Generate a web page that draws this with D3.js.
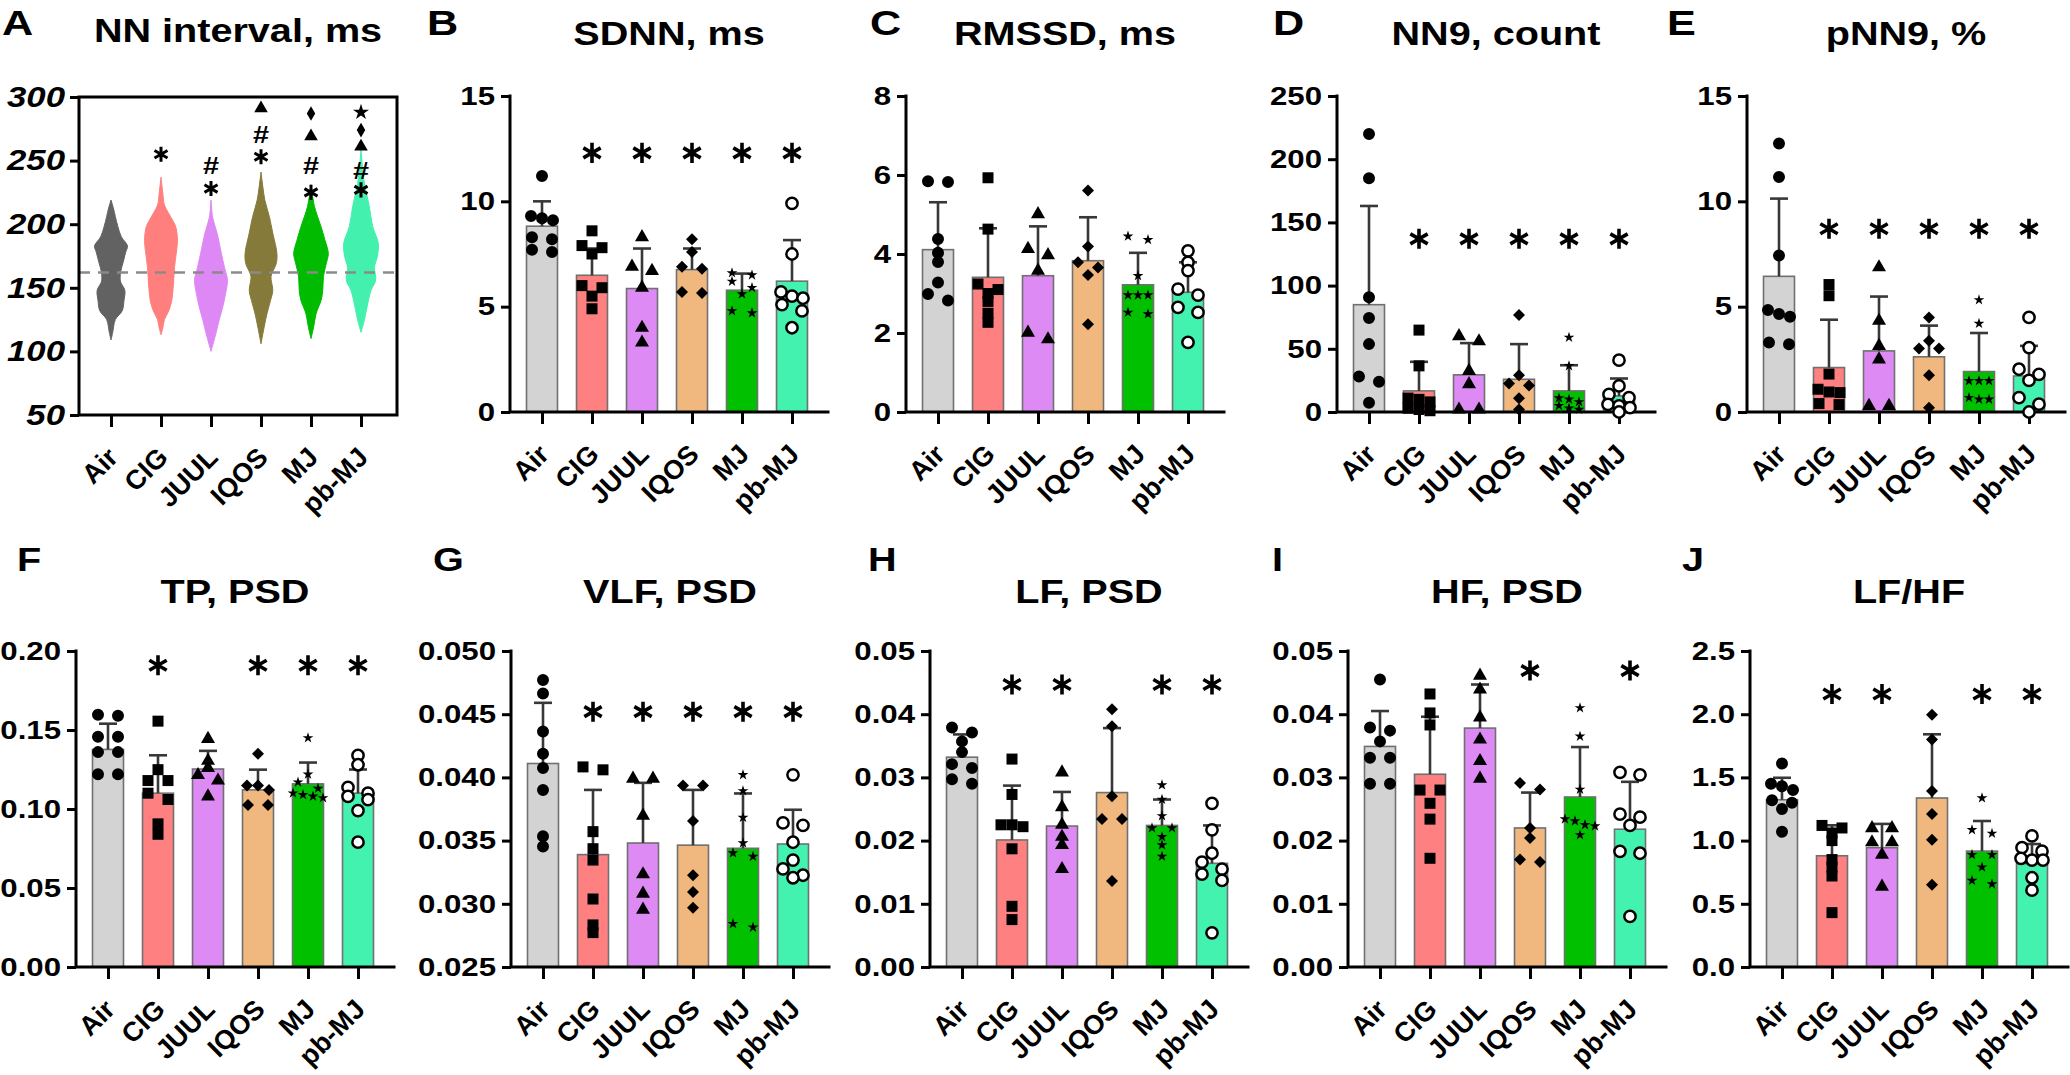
<!DOCTYPE html>
<html><head><meta charset="utf-8">
<script src="https://cdn.jsdelivr.net/npm/d3@7"></script>
<style>body{margin:0;background:#fff;} svg{display:block;}</style>
</head><body>
<script>
// ---------------- DATA ----------------
const categories = ["Air","CIG","JUUL","IQOS","MJ","pb-MJ"];
const barColors = ["#d3d3d3","#ff8080","#dd8af5","#f0b87f","#00c000","#44f2b0"];
const violinColors = ["#626262","#ff7f7f","#dd88f5","#867a3b","#00bb00","#44f0ae"];
const markerTypes = ["circle","square","triangle","diamond","star","opencircle"];

// Panel A: NN interval violin profiles [value ms, relative half-width]
const nnAir  = [[109,0],[115,0.1],[125,0.25],[132,0.65],[140,0.75],[148,0.8],[155,0.55],[162,0.55],[170,0.7],[178,0.85],[183,0.95],[190,0.6],[198,0.4],[206,0.25],[212,0.15],[219,0]];
const nnCIG  = [[113,0],[118,0.1],[125,0.2],[132,0.45],[140,0.62],[153,0.72],[166,0.78],[177,0.88],[187,0.95],[198,0.85],[206,0.55],[215,0.2],[225,0.1],[237,0]];
const nnJUUL = [[100,0],[106,0.12],[114,0.28],[125,0.48],[135,0.68],[146,0.85],[156,0.95],[166,0.78],[177,0.6],[193,0.35],[205,0.1],[219,0]];
const nnIQOS = [[106,0],[119,0.18],[130,0.35],[140,0.55],[148,0.68],[159,0.58],[169,0.88],[177,0.92],[193,0.68],[206,0.48],[219,0.22],[230,0.1],[241,0]];
const nnMJ   = [[110,0],[119,0.15],[130,0.3],[140,0.58],[148,0.68],[159,0.72],[169,0.88],[177,1.0],[187,0.82],[198,0.58],[214,0.2],[231,0]];
const nnPbMJ = [[115,0],[125,0.2],[135,0.35],[148,0.58],[156,0.85],[166,0.78],[175,0.95],[185,1.0],[198,0.68],[214,0.48],[232,0.2],[245,0.08],[260,0]];
const nnProfiles = [nnAir, nnCIG, nnJUUL, nnIQOS, nnMJ, nnPbMJ];
const nnBaseline = 162;
const nnTicks = [50,100,150,200,250,300];
// significance marks for panel A: [mark, y value]
const nnSig = [[], [["*",255]], [["*",228],["#",246]], [["*",253],["#",270],["▲",291]],
               [["*",225],["#",246],["▲",269],["♦",287]], [["*",227],["#",242],["▲",261],["♦",274],["★",288]]];

// Panel B: SDNN
const sdnnMean = [8.82, 6.49, 5.86, 6.76, 5.78, 6.21];
const sdnnSD   = [1.18, 1.27, 1.90, 1.00, 0.79, 1.95];
const sdnnPts  = [[11.2,9.3,9.2,9.1,8.3,8.2,7.7,7.6],[8.6,7.9,7.8,7.5,6.0,5.9,5.5,4.9],[8.3,6.9,6.7,5.9,4.0,3.3],
                  [8.2,7.6,6.9,6.8,5.7,5.65],[6.6,6.5,6.2,5.9,5.6,4.8,4.7],[9.9,7.5,5.7,5.5,5.4,5.1,4.8,4.0]];
const sdnnSig  = [0,1,1,1,1,1];
const sdnnTicks = [0,5,10,15];

// Panel C: RMSSD
const rmssdMean = [4.11, 3.41, 3.45, 3.83, 3.22, 3.03];
const rmssdSD   = [1.20, 1.24, 1.25, 1.10, 0.81, 0.76];
const rmssdPts  = [[5.84,5.82,4.38,4.03,3.8,3.28,2.99,2.82],[5.93,4.63,3.24,3.1,3.0,2.8,2.5,2.27],[5.01,4.13,3.97,3.58,2.01,1.84],
                   [5.61,4.19,3.79,3.66,3.47,2.22],[4.45,4.36,3.45,2.96,2.96,2.96,2.52,2.48],[4.08,3.79,3.58,3.11,2.96,2.65,2.52,1.76]];
const rmssdSig  = [0,0,0,0,0,0];
const rmssdTicks = [0,2,4,6,8];

// Panel D: NN9 count
const nn9Mean = [84.9, 16.7, 29.4, 25.9, 16.7, 12.7];
const nn9SD   = [78.1, 23.0, 25.1, 27.8, 20.3, 13.8];
const nn9Pts  = [[220,185,90.7,74.3,53.7,28,24,7.4],[64.8,36.5,11,10,8,3,2,1],[60,56,32.5,22,2,2],
                 [76.7,29,22.5,21,10.8,2],[59,36.5,11,10,8,5,3,2],[41,20.6,14,11.4,6,4.8,3.4,0]];
const nn9Sig  = [0,1,1,1,1,1];
const nn9Ticks = [0,50,100,150,200,250];

// Panel E: pNN9 %
const pnn9Mean = [6.44, 2.11, 2.90, 2.62, 1.92, 1.71];
const pnn9SD   = [3.69, 2.27, 2.58, 1.48, 1.83, 1.43];
const pnn9Pts  = [[12.75,11.16,7.43,4.84,4.65,4.52,3.3,3.22],[6.05,5.52,1.8,1.08,0.95,0.92,0.4,0.35],[6.87,4.33,3.14,2.5,0.29,0.29],
                  [4.49,3.38,3.02,3.02,1.75,0.2],[5.32,4.2,1.48,1.48,1.48,0.68,0.6,0.6],[4.49,3.06,2.03,1.79,1.5,0.68,0.37,0.0]];
const pnn9Sig  = [0,1,1,1,1,1];
const pnn9Ticks = [0,5,10,15];

// Panel F: TP
const tpMean = [0.1377, 0.110, 0.1253, 0.1121, 0.1159, 0.110];
const tpSD   = [0.0163, 0.024, 0.0115, 0.0128, 0.0135, 0.015];
const tpPts  = [[0.1596,0.159,0.1457,0.1457,0.136,0.136,0.122,0.122],[0.1556,0.1249,0.118,0.118,0.110,0.106,0.0906,0.084],
                [0.1444,0.1305,0.126,0.1215,0.118,0.108],[0.135,0.1148,0.1148,0.112,0.1025,0.1025],
                [0.145,0.122,0.117,0.113,0.110,0.109,0.108,0.107],[0.1339,0.128,0.1137,0.110,0.108,0.106,0.099,0.079]];
const tpSig  = [0,1,0,1,1,1];
const tpTicks = [0,0.05,0.10,0.15,0.20];

// Panel G: VLF
const vlfMean = [0.0411, 0.03389, 0.03481, 0.03464, 0.03439, 0.03473];
const vlfSD   = [0.0048, 0.00512, 0.00476, 0.00437, 0.00434, 0.00271];
const vlfPts  = [[0.0477,0.04664,0.04364,0.04187,0.04075,0.03901,0.03534,0.03453],[0.04083,0.0406,0.03571,0.03436,0.03346,0.03038,0.02833,0.02772],
                 [0.0399,0.0399,0.03697,0.03234,0.0308,0.02954],[0.03935,0.03935,0.03655,0.03226,0.03094,0.02968],
                 [0.0402,0.03893,0.03683,0.03481,0.03402,0.03374,0.02842,0.02814],[0.0402,0.0364,0.03621,0.03487,0.03346,0.03276,0.03226,0.03206]];
const vlfSig  = [0,1,1,1,1,1];
const vlfTicks = [0.025,0.030,0.035,0.040,0.045,0.050];

// Panel H: LF
const lfMean = [0.0332, 0.0201, 0.0223, 0.0276, 0.0224, 0.0164];
const lfSD   = [0.0036, 0.0086, 0.0054, 0.0102, 0.0041, 0.0060];
const lfPts  = [[0.0379,0.0371,0.0357,0.034,0.0321,0.0315,0.0297,0.029],[0.0329,0.0273,0.0225,0.0225,0.0222,0.0187,0.0096,0.0075],
                [0.0308,0.0253,0.0225,0.0206,0.0193,0.0155],[0.0408,0.0381,0.027,0.0234,0.0234,0.0136],
                [0.0288,0.0265,0.0239,0.022,0.022,0.0206,0.0193,0.0175],[0.0259,0.0217,0.018,0.0166,0.0155,0.0147,0.0137,0.0054]];
const lfSig  = [0,1,1,0,1,1];
const lfTicks = [0,0.01,0.02,0.03,0.04,0.05];

// Panel I: HF
const hfMean = [0.0349, 0.0305, 0.0378, 0.0220, 0.0269, 0.0218];
const hfSD   = [0.0056, 0.0091, 0.0069, 0.0056, 0.0079, 0.0075];
const hfPts  = [[0.0455,0.0379,0.0374,0.0357,0.0331,0.0331,0.029,0.029],[0.0432,0.0402,0.0383,0.028,0.028,0.0259,0.0234,0.0172],
                [0.0461,0.0439,0.0395,0.036,0.0326,0.0298],[0.0291,0.0281,0.022,0.0204,0.017,0.0166],
                [0.041,0.0365,0.0281,0.0234,0.0231,0.0225,0.0223,0.0209],[0.0308,0.0304,0.0242,0.0237,0.0224,0.0183,0.018,0.008]];
const hfSig  = [0,0,0,1,0,1];
const hfTicks = [0,0.01,0.02,0.03,0.04,0.05];

// Panel J: LF/HF
const lfhfMean = [1.323, 0.880, 0.944, 1.337, 0.917, 0.818];
const lfhfSD   = [0.174, 0.241, 0.188, 0.504, 0.238, 0.155];
const lfhfPts  = [[1.61,1.45,1.43,1.40,1.32,1.30,1.25,1.07],[1.12,1.10,1.06,1.0,0.85,0.79,0.72,0.43],
                  [1.099,1.099,0.987,0.987,0.888,0.636],[1.996,1.80,1.393,1.211,1.006,0.65],
                  [1.337,1.085,1.057,0.888,0.888,0.79,0.684,0.656],[1.037,0.944,0.916,0.86,0.846,0.846,0.706,0.608]];
const lfhfSig  = [0,1,1,0,1,1];
const lfhfTicks = [0,0.5,1.0,1.5,2.0,2.5];

// ---------------- LAYOUT ----------------
const W = 2070, H = 1075;
const FONT = '"Liberation Sans", Arial, Helvetica, sans-serif';
const SX = 1.2;           // horizontal stretch of text in the reference
const AXW = 318;          // axis length
const row1 = {top:96, bottom:412, letterY:35, titleY:45, letterSize:36};
const row2 = {top:651, bottom:967, letterY:571, titleY:603, letterSize:33};

const panels = [
  {letter:"B", title:"SDNN, ms",   x0:510,  lx:427,  row:row1, domain:[0,15],  ticks:sdnnTicks,  fmt:"d",   mean:sdnnMean,  sd:sdnnSD,  pts:sdnnPts,  sig:sdnnSig,  sigY:12.3},
  {letter:"C", title:"RMSSD, ms",  x0:906,  lx:870,  row:row1, domain:[0,8],   ticks:rmssdTicks, fmt:"d",   mean:rmssdMean, sd:rmssdSD, pts:rmssdPts, sig:rmssdSig, sigY:7},
  {letter:"D", title:"NN9, count", x0:1337, lx:1273, row:row1, domain:[0,250], ticks:nn9Ticks,   fmt:"d",   mean:nn9Mean,   sd:nn9SD,   pts:nn9Pts,   sig:nn9Sig,   sigY:137},
  {letter:"E", title:"pNN9, %",    x0:1747, lx:1667, row:row1, domain:[0,15],  ticks:pnn9Ticks,  fmt:"d",   mean:pnn9Mean,  sd:pnn9SD,  pts:pnn9Pts,  sig:pnn9Sig,  sigY:8.7},
  {letter:"F", title:"TP, PSD",    x0:76,   lx:17,   row:row2, domain:[0,0.2], ticks:tpTicks,    fmt:".2f", mean:tpMean,    sd:tpSD,    pts:tpPts,    sig:tpSig,    sigY:0.191},
  {letter:"G", title:"VLF, PSD",   x0:511,  lx:433,  row:row2, domain:[0.025,0.05], ticks:vlfTicks, fmt:".3f", mean:vlfMean, sd:vlfSD, pts:vlfPts, sig:vlfSig, sigY:0.0452},
  {letter:"H", title:"LF, PSD",    x0:930,  lx:868,  row:row2, domain:[0,0.05], ticks:lfTicks,   fmt:".2f", mean:lfMean,    sd:lfSD,    pts:lfPts,    sig:lfSig,    sigY:0.0447},
  {letter:"I", title:"HF, PSD",    x0:1348, lx:1272, row:row2, domain:[0,0.05], ticks:hfTicks,   fmt:".2f", mean:hfMean,    sd:hfSD,    pts:hfPts,    sig:hfSig,    sigY:0.0469},
  {letter:"J", title:"LF/HF",      x0:1750, lx:1682, row:row2, domain:[0,2.5], ticks:lfhfTicks,  fmt:".1f", mean:lfhfMean,  sd:lfhfSD,  pts:lfhfPts,  sig:lfhfSig,  sigY:2.16}
];

// ---------------- HELPERS ----------------
const svg = d3.select("body").append("svg").attr("width",W).attr("height",H);
svg.append("rect").attr("width",W).attr("height",H).attr("fill","#fff");

function addText(g, str, x, y, size, anchor, italic){
  return g.append("text")
    .attr("transform",`translate(${x},${y}) scale(${SX},1)`)
    .attr("text-anchor",anchor).attr("font-size",size).attr("font-weight","bold")
    .attr("font-style", italic ? "italic" : "normal")
    .attr("font-family",FONT).attr("fill","#000").text(str);
}

function styleYAxis(sel, size, italic){
  sel.select(".domain").remove();
  sel.selectAll(".tick line").attr("stroke","#000").attr("stroke-width",3);
  sel.selectAll(".tick text").each(function(){
    const t = d3.select(this); const x = +t.attr("x");
    t.attr("x",null).attr("transform",`translate(${x},0) scale(${SX},1)`);
  }).attr("font-size",size).attr("font-weight","bold").attr("font-family",FONT)
    .attr("fill","#000").attr("font-style", italic ? "italic" : "normal");
}

function styleXAxis(sel){
  sel.select(".domain").remove();
  sel.selectAll(".tick line").attr("stroke","#000").attr("stroke-width",3);
  sel.selectAll(".tick text")
    .attr("y",null).attr("dy",null)
    .attr("transform","translate(8,44) rotate(-45)")
    .attr("text-anchor","end").attr("font-size",27).attr("font-weight","bold")
    .attr("font-family",FONT).attr("fill","#000");
}

function markerPath(type){
  switch(type){
    case "circle": return {d:d3.symbol(d3.symbolCircle,113)(), fill:"#000", stroke:"none", sw:0, rot:0};
    case "square": return {d:d3.symbol(d3.symbolSquare,121)(), fill:"#000", stroke:"none", sw:0, rot:0};
    case "triangle": return {d:d3.symbol(d3.symbolTriangle,85)(), fill:"#000", stroke:"none", sw:0, rot:0};
    case "diamond": return {d:d3.symbol(d3.symbolSquare,72)(), fill:"#000", stroke:"none", sw:0, rot:45};
    case "star": return {d:d3.symbol(d3.symbolStar,36)(), fill:"#000", stroke:"none", sw:0, rot:0};
    default: return {d:d3.symbol(d3.symbolCircle,100)(), fill:"#fff", stroke:"#000", sw:2.5, rot:0};
  }
}

// arrange points of one column in rows (GraphPad-like scatter)
function swarm(vals, y, cx, type){
  const pts = vals.map(v => ({v, py:y(v)})).sort((a,b) => a.py - b.py);
  const rows = [];
  pts.forEach(p => {
    const r = rows[rows.length-1];
    if (r && p.py - r[0].py < 7) r.push(p); else rows.push([p]);
  });
  rows.forEach(r => {
    const n = r.length;
    const sp = n === 2 ? 20 : (type === "star" ? 10 : 11);
    r.forEach((p,i) => p.px = cx + (i - (n-1)/2) * sp);
  });
  return pts;
}

// ---------------- BAR PANELS ----------------
panels.forEach(cfg => {
  const g = svg.append("g");
  const {top, bottom} = cfg.row;
  const x = d3.scalePoint().domain(categories).range([cfg.x0+32, cfg.x0+282]);
  const y = d3.scaleLinear().domain(cfg.domain).range([bottom, top]);
  const bw = 31;

  // bars
  g.selectAll("rect.bar").data(categories).join("rect").attr("class","bar")
    .attr("x", d => x(d) - bw/2).attr("width", bw)
    .attr("y", (d,i) => y(cfg.mean[i]))
    .attr("height", (d,i) => bottom - y(cfg.mean[i]))
    .attr("fill", (d,i) => barColors[i]).attr("stroke","#707070").attr("stroke-width",1.6);

  // error bars (mean + SD)
  const eb = g.selectAll("g.eb").data(categories).join("g").attr("class","eb")
    .attr("stroke","#383838").attr("stroke-width",2.6);
  eb.append("line").attr("x1", d => x(d)).attr("x2", d => x(d))
    .attr("y1", (d,i) => y(cfg.mean[i])).attr("y2", (d,i) => y(cfg.mean[i] + cfg.sd[i]));
  eb.append("line").attr("x1", d => x(d) - 9).attr("x2", d => x(d) + 9)
    .attr("y1", (d,i) => y(cfg.mean[i] + cfg.sd[i])).attr("y2", (d,i) => y(cfg.mean[i] + cfg.sd[i]));

  // axes
  const ya = d3.axisLeft(y).tickValues(cfg.ticks).tickFormat(d3.format(cfg.fmt)).tickSize(9).tickPadding(6).tickSizeOuter(0);
  g.append("g").attr("transform",`translate(${cfg.x0},0)`).call(ya).call(s => styleYAxis(s, 26, false));
  const xa = d3.axisBottom(x).tickSize(12).tickSizeOuter(0);
  g.append("g").attr("transform",`translate(0,${bottom})`).call(xa).call(styleXAxis);
  g.append("path").attr("d", `M${cfg.x0},${top}V${bottom}H${cfg.x0 + AXW}`)
    .attr("fill","none").attr("stroke","#000").attr("stroke-width",3).attr("stroke-linecap","square");

  // points
  cfg.pts.forEach((vals, i) => {
    const type = markerTypes[i];
    const m = markerPath(type);
    swarm(vals, y, x(categories[i]), type).forEach(p => {
      g.append("path").attr("d", m.d)
        .attr("transform", `translate(${p.px},${p.py}) rotate(${m.rot})`)
        .attr("fill", m.fill).attr("stroke", m.stroke).attr("stroke-width", m.sw);
    });
  });

  // significance
  cfg.sig.forEach((s,i) => {
    if (!s) return;
    g.append("path").attr("d", d3.symbol(d3.symbolAsterisk, 283)())
      .attr("transform", `translate(${x(categories[i])},${y(cfg.sigY)})`)
      .attr("fill","none").attr("stroke","#000").attr("stroke-width",3.6);
  });

  // titles
  addText(g, cfg.letter, cfg.lx, cfg.row.letterY, cfg.row.letterSize, "start");
  addText(g, cfg.title, cfg.x0 + AXW/2, cfg.row.titleY, 33, "middle");
});

// ---------------- PANEL A (violins) ----------------
(function(){
  const x0 = 79, top = 97, bottom = 415;
  const g = svg.append("g");
  const x = d3.scalePoint().domain(categories).range([x0+32, x0+282]);
  const y = d3.scaleLinear().domain([50,300]).range([bottom, top]);
  const w = d3.scaleLinear().domain([0,1]).range([0,17.3]);

  nnProfiles.forEach((prof, i) => {
    const cx = x(categories[i]);
    const area = d3.area().curve(d3.curveCatmullRom)
      .y(d => y(d[0])).x0(d => cx - w(d[1])).x1(d => cx + w(d[1]));
    g.append("path").attr("d", area(prof)).attr("fill", violinColors[i]).attr("stroke", violinColors[i]).attr("stroke-width",1);
  });

  g.append("line").attr("x1",x0).attr("x2",x0+AXW).attr("y1",y(nnBaseline)).attr("y2",y(nnBaseline))
    .attr("stroke","#8a8a8a").attr("stroke-width",2.5).attr("stroke-dasharray","11,8");

  const ya = d3.axisLeft(y).tickValues(nnTicks).tickFormat(d3.format("d")).tickSize(9).tickPadding(5).tickSizeOuter(0);
  g.append("g").attr("transform",`translate(${x0},0)`).call(ya).call(s => styleYAxis(s, 29, true));
  const xa = d3.axisBottom(x).tickSize(12).tickSizeOuter(0);
  g.append("g").attr("transform",`translate(0,${bottom})`).call(xa).call(styleXAxis);
  g.append("rect").attr("x",x0).attr("y",top).attr("width",AXW).attr("height",bottom-top)
    .attr("fill","none").attr("stroke","#000").attr("stroke-width",3);

  nnSig.forEach((marks, i) => {
    const cx = x(categories[i]);
    marks.forEach(([m, v]) => {
      const py = y(v);
      if (m === "*") {
        g.append("path").attr("d", d3.symbol(d3.symbolAsterisk, 160)()).attr("transform",`translate(${cx},${py})`)
          .attr("fill","none").attr("stroke","#000").attr("stroke-width",3);
      } else if (m === "#") {
        addText(g, "#", cx, py + 8, 24, "middle");
      } else {
        const sym = m === "▲" ? d3.symbol(d3.symbolTriangle, 80)() : m === "♦" ? d3.symbol(d3.symbolDiamond, 62)() : d3.symbol(d3.symbolStar, 80)();
        g.append("path").attr("d", sym).attr("transform",`translate(${cx},${py})`).attr("fill","#000");
      }
    });
  });

  addText(g, "A", 2, row1.letterY, row1.letterSize, "start");
  addText(g, "NN interval, ms", x0 + AXW/2, 42, 33, "middle");
})();
</script>
</body></html>
